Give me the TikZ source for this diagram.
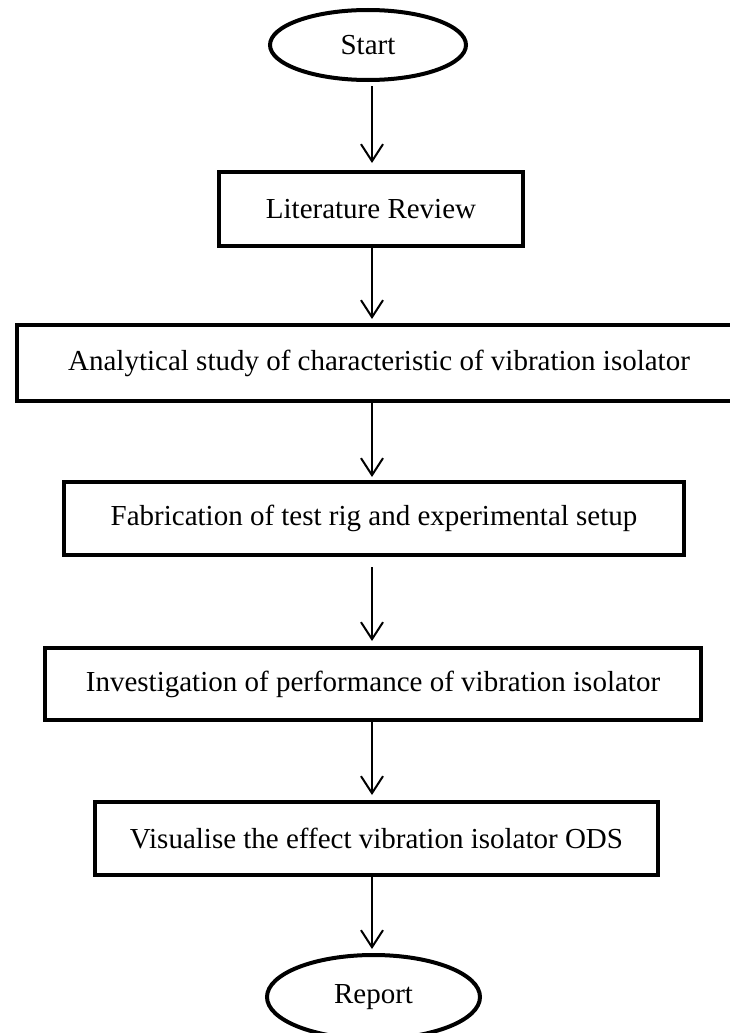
\documentclass[tikz,border=0pt]{standalone}
\usepackage{fontspec}
\setmainfont{Liberation Serif}
\usetikzlibrary{arrows.meta,shapes.geometric}
\tikzset{
  stepbox/.style={draw=black, line width=4pt, rectangle, inner sep=0pt, outer sep=0pt,
    font=\fontsize{29}{34}\selectfont},
  termbox/.style={draw=black, line width=4pt, ellipse, inner sep=0pt, outer sep=0pt,
    font=\fontsize{29}{34}\selectfont},
  arr/.style={draw=black, line width=2pt, -{Straight Barb[length=17pt,width=22pt]}}
}
\begin{document}
\begin{tikzpicture}[x=1pt,y=-1pt]
\clip (0,0) rectangle (730,1033);
\fill[white] (0,0) rectangle (730,1033);
\coordinate (ax) at (372,0);
\node[termbox, minimum width=196pt, minimum height=70pt] (start) at (368,45) {Start};
\node[stepbox, minimum width=304pt, minimum height=74pt] (lit) at (371,209) {Literature Review};
\node[stepbox, minimum width=724pt, minimum height=76pt] (ana) at (379,363) {Analytical study of characteristic of vibration isolator};
\node[stepbox, minimum width=620pt, minimum height=73pt] (fab) at (374,518.5) {Fabrication of test rig and experimental setup};
\node[stepbox, minimum width=656pt, minimum height=72pt] (inv) at (373,684) {Investigation of performance of vibration isolator};
\node[stepbox, minimum width=563pt, minimum height=73pt] (vis) at (376.5,838.5) {Visualise the effect vibration isolator ODS};
\node[termbox, minimum width=213pt, minimum height=84pt] (rep) at (373.5,997) {Report};
\draw[arr, shorten <=6pt, shorten >=9pt] (start.south -| ax) -- (lit.north -| ax);
\draw[arr, shorten <=0pt, shorten >=6pt] (lit.south -| ax) -- (ana.north -| ax);
\draw[arr, shorten <=0pt, shorten >=5pt] (ana.south -| ax) -- (fab.north -| ax);
\draw[arr, shorten <=12pt, shorten >=7pt] (fab.south -| ax) -- (inv.north -| ax);
\draw[arr, shorten <=0pt, shorten >=7pt] (inv.south -| ax) -- (vis.north -| ax);
\draw[arr, shorten <=0pt, shorten >=6pt] (vis.south -| ax) -- (rep.north -| ax);
\end{tikzpicture}
\end{document}
